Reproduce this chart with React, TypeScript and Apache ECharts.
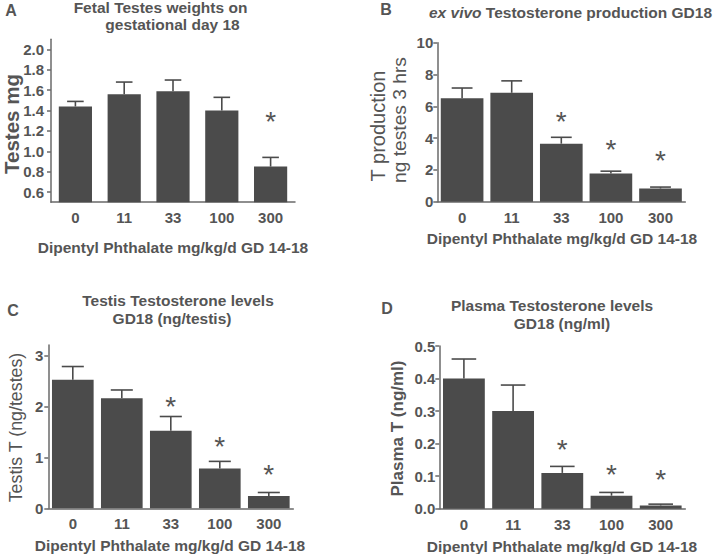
import React, { useEffect, useRef } from "react";
import * as echarts from "echarts";

// ---- data ----
const categories = ["0", "11", "33", "100", "300"];

// A: Fetal testes weights (mg)
const weightMean = [1.44, 1.56, 1.59, 1.4, 0.85];
const weightErrTop = [1.49, 1.68, 1.7, 1.53, 0.94];
const weightStar = [null, null, null, null, 1.35];
const weightTicks = [0.6, 0.8, 1.0, 1.2, 1.4, 1.6, 1.8, 2.0];

// B: ex vivo T production (ng/testes/3 hrs)
const prodMean = [6.5, 6.85, 3.65, 1.77, 0.83];
const prodErrTop = [7.15, 7.6, 4.05, 1.92, 0.92];
const prodStar = [null, null, 5.42, 3.65, 2.98];
const prodTicks = [0, 2, 4, 6, 8, 10];

// C: Testis T (ng/testes)
const testisMean = [2.52, 2.16, 1.52, 0.78, 0.24];
const testisErrTop = [2.78, 2.32, 1.8, 0.92, 0.31];
const testisStar = [null, null, 2.12, 1.34, 0.79];
const testisTicks = [0, 1, 2, 3];

// D: Plasma T (ng/ml)
const plasmaMean = [0.4, 0.3, 0.11, 0.04, 0.01];
const plasmaErrTop = [0.46, 0.38, 0.13, 0.05, 0.014];
const plasmaStar = [null, null, 0.2, 0.124, 0.109];
const plasmaTicks = [0, 0.1, 0.2, 0.3, 0.4, 0.5];

const xName = "Dipentyl Phthalate mg/kg/d GD 14-18";

const FONT = "'Liberation Sans', Arial, Helvetica, sans-serif";
const TEXT = "#555555";
const AXIS = "#6a6a6a";
const BAR = "#4b4b4b";

type Panel = {
  mean: number[];
  err: number[];
  star: (number | null)[];
  ticks: number[];
  min: number;
  max: number;
  decimals: number;
  grid: { left: number; top: number; width: number; height: number };
  barWidth: string;
  cap: number;
  labelMargin: number;
};

const panels: Panel[] = [
  {
    mean: weightMean, err: weightErrTop, star: weightStar, ticks: weightTicks,
    min: 0.5, max: 2.1, decimals: 1,
    grid: { left: 51, top: 39.3, width: 244, height: 162.9 },
    barWidth: "68%", cap: 0.34, labelMargin: 7,
  },
  {
    mean: prodMean, err: prodErrTop, star: prodStar, ticks: prodTicks,
    min: 0, max: 10, decimals: 0,
    grid: { left: 437.3, top: 42.7, width: 248, height: 159 },
    barWidth: "86%", cap: 0.42, labelMargin: 4,
  },
  {
    mean: testisMean, err: testisErrTop, star: testisStar, ticks: testisTicks,
    min: 0, max: 3.2, decimals: 0,
    grid: { left: 48.3, top: 345.1, width: 245, height: 163.2 },
    barWidth: "85%", cap: 0.45, labelMargin: 5,
  },
  {
    mean: plasmaMean, err: plasmaErrTop, star: plasmaStar, ticks: plasmaTicks,
    min: 0, max: 0.5, decimals: 1,
    grid: { left: 439.3, top: 346, width: 246, height: 162.7 },
    barWidth: "85%", cap: 0.5, labelMargin: 4,
  },
];

const STAR_SIZE = 28;

function buildOption() {
  const grid: any[] = [];
  const xAxis: any[] = [];
  const yAxis: any[] = [];
  const series: any[] = [];

  panels.forEach((p, k) => {
    grid.push({ ...p.grid, containLabel: false });
    xAxis.push({
      type: "category",
      gridIndex: k,
      data: categories,
      boundaryGap: true,
      axisLine: { lineStyle: { color: AXIS, width: 1.5 } },
      axisTick: { alignWithLabel: true, length: 4, lineStyle: { color: AXIS, width: 1.5 } },
      axisLabel: {
        margin: 8,
        color: TEXT,
        fontFamily: FONT,
        fontWeight: "bold",
        fontSize: 15,
      },
    });
    yAxis.push({
      type: "value",
      gridIndex: k,
      min: p.min,
      max: p.max,
      splitLine: { show: false },
      axisLine: { show: true, lineStyle: { color: AXIS, width: 1.5 } },
      axisTick: { show: true, length: 4, customValues: p.ticks, lineStyle: { color: AXIS, width: 1.5 } },
      axisLabel: {
        customValues: p.ticks,
        margin: p.labelMargin,
        color: TEXT,
        fontFamily: FONT,
        fontWeight: "bold",
        fontSize: 15,
        formatter: (v: number) => v.toFixed(p.decimals),
      },
    });
    series.push({
      type: "bar",
      xAxisIndex: k,
      yAxisIndex: k,
      data: p.mean,
      barWidth: p.barWidth,
      itemStyle: { color: BAR },
      clip: true,
    });
    series.push({
      type: "custom",
      xAxisIndex: k,
      yAxisIndex: k,
      clip: false,
      data: p.mean.map((m, i) => [i, m, p.err[i]]),
      renderItem: (params: any, api: any) => {
        const i = api.value(0);
        const top = api.coord([i, api.value(2)]);
        const base = api.coord([i, api.value(1)]);
        const band = api.size([1, 0])[0];
        const hw = (band * p.cap) / 2;
        const stroke = { stroke: BAR, lineWidth: 1.6 };
        const children: any[] = [
          { type: "line", shape: { x1: base[0], y1: base[1], x2: top[0], y2: top[1] }, style: stroke },
          { type: "line", shape: { x1: top[0] - hw, y1: top[1], x2: top[0] + hw, y2: top[1] }, style: stroke },
        ];
        const s = p.star[params.dataIndex];
        if (s !== null && s !== undefined) {
          const sp = api.coord([i, s]);
          children.push({
            type: "text",
            style: {
              text: "*",
              x: sp[0],
              y: sp[1] + STAR_SIZE * 0.22,
              align: "center",
              verticalAlign: "middle",
              textAlign: "center",
              textVerticalAlign: "middle",
              fill: TEXT,
              fontSize: STAR_SIZE,
              fontFamily: FONT,
            },
          });
        }
        return { type: "group", children };
      },
    });
  });

  const txt = (
    text: string,
    x: number,
    y: number,
    size: number,
    weight: string = "bold",
    rotation = 0,
    extra: any = {}
  ) => ({
    type: "text",
    x,
    y,
    rotation,
    style: {
      text,
      fill: TEXT,
      fontFamily: FONT,
      fontSize: size,
      fontWeight: weight,
      align: "center",
      verticalAlign: "middle",
      textAlign: "center",
      textVerticalAlign: "middle",
      ...extra,
    },
  });

  const R = Math.PI / 2;
  const graphic = [
    // panel letters
    txt("A", 11, 10, 16),
    txt("B", 386, 9, 16),
    txt("C", 13, 310, 16),
    txt("D", 387, 308, 16),
    // titles
    txt("Fetal Testes weights on", 160.5, 7, 15.5),
    txt("gestational day 18", 172.5, 24.5, 15.5),
    txt("{i|ex vivo} Testosterone production GD18", 570.5, 12, 15.5, "bold", 0, {
      rich: {
        i: { fontStyle: "italic", fontWeight: "bold", fontSize: 15.5, fontFamily: FONT, fill: TEXT },
      },
    }),
    txt("Testis Testosterone levels", 178, 300, 15.5),
    txt("GD18 (ng/testis)", 172, 318.5, 15.5),
    txt("Plasma Testosterone levels", 552, 305.5, 15.5),
    txt("GD18 (ng/ml)", 562, 323.5, 15.5),
    // y axis names
    txt("Testes mg", 11, 124, 20.5, "bold", R),
    txt("T production", 378, 126, 20, "normal", R),
    txt("ng testes 3 hrs", 399, 120, 19.2, "normal", R),
    txt("Testis T (ng/testes)", 15.5, 427.5, 17.8, "normal", R),
    txt("Plasma T (ng/ml)", 397, 428.5, 17, "bold", R),
    // x axis names
    txt(xName, 173, 247, 15.5),
    txt(xName, 562, 238, 15.5),
    txt(xName, 170, 545, 15.5),
    txt(xName, 562, 546, 15.5),
  ];

  return {
    animation: false,
    backgroundColor: "#ffffff",
    grid,
    xAxis,
    yAxis,
    series,
    graphic,
  };
}

export default function App() {
  const ref = useRef<HTMLDivElement>(null);
  useEffect(() => {
    if (!ref.current) return;
    const chart = echarts.init(ref.current, null, { renderer: "svg", width: 720, height: 554 });
    chart.setOption(buildOption() as any);
    return () => chart.dispose();
  }, []);
  return (
    <div
      ref={ref}
      style={{ position: "absolute", left: 0, top: 0, width: 720, height: 554, background: "#fff" }}
    />
  );
}
